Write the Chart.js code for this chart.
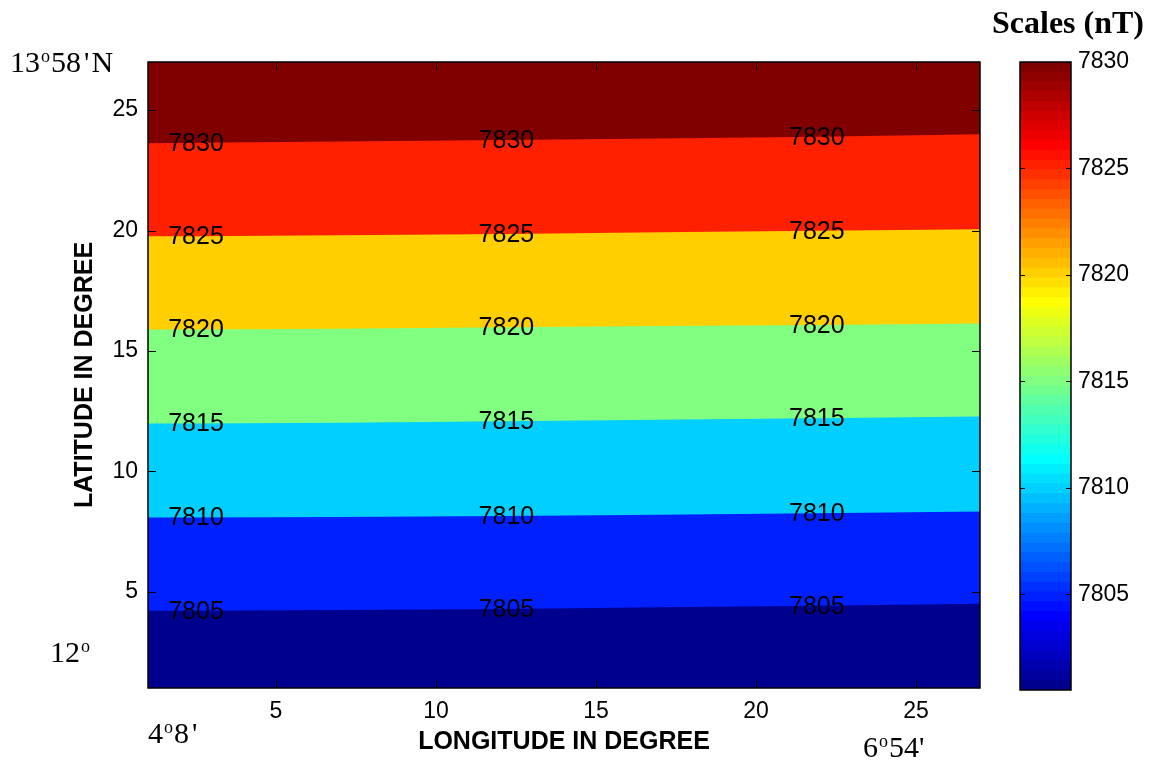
<!DOCTYPE html>
<html>
<head>
<meta charset="utf-8">
<script src="https://cdn.jsdelivr.net/npm/chart.js@4.4.1/dist/chart.umd.min.js"></script>
<style>
  html, body { margin: 0; padding: 0; background: #fff; }
  #wrap { position: relative; width: 1153px; height: 763px; overflow: hidden; }
  #wrap canvas { position: absolute; left: 0; top: 0; }
  .note { position: absolute; font-family: "Liberation Serif", "Times New Roman", serif; font-size: 30px; line-height: 30px; color: #000; white-space: nowrap; }
  .note .o { font-size: 18px; position: relative; top: -10px; margin: 0 1px; }
  .note .p { margin: 0 2px 0 3px; }
  .note.bold { font-weight: bold; font-size: 32px; line-height: 32px; }
</style>
</head>
<body>
<div id="wrap">
  <canvas id="map" width="1153" height="763"></canvas>
  <canvas id="scale" width="1153" height="763"></canvas>
  <div class="note" style="left:10px; top:47px">13<span class="o">o</span>58<span class="p">'</span>N</div>
  <div class="note" style="left:50px; top:637px">12<span class="o">o</span></div>
  <div class="note" style="left:148px; top:718px">4<span class="o">o</span>8<span class="p">'</span></div>
  <div class="note" style="left:863px; top:732px">6<span class="o">o</span>54'</div>
  <div class="note bold" style="left:992px; top:6px">Scales (nT)</div>
</div>
<script>
/* ===== Data ===== */

// x positions (degrees) where the contour lines were sampled
const contourX = [1, 2.5, 7, 12.2, 17, 21.9, 27];
const levels = [7805, 7810, 7815, 7820, 7825, 7830];
const line7805 = [4.21, 4.21, 4.24, 4.28, 4.35, 4.42, 4.50];
const line7810 = [8.08, 8.08, 8.10, 8.14, 8.20, 8.26, 8.33];
const line7815 = [11.99, 11.99, 12.02, 12.08, 12.14, 12.20, 12.28];
const line7820 = [15.89, 15.89, 15.92, 15.98, 16.03, 16.08, 16.14];
const line7825 = [19.76, 19.76, 19.80, 19.86, 19.93, 19.99, 20.05];
const line7830 = [23.63, 23.65, 23.70, 23.76, 23.82, 23.90, 24.00];
// which samples carry a clabel
const labelIdx = [1, 3, 5];

const xTicks = [5, 10, 15, 20, 25];
const yTicks = [5, 10, 15, 20, 25];
const axisMin = 1, axisMax = 27;

const cbTicks = [7805, 7810, 7815, 7820, 7825, 7830];
const cbMin = 7800.5, cbMax = 7830;

// band colours, bottom to top (jet at each level)
const bandColors = ['#00008f', '#0020ff', '#00cfff', '#80ff80', '#ffcf00', '#ff2000', '#800000'];

const FONT = '"Liberation Sans", Arial, Helvetica, sans-serif';
Chart.defaults.font.family = FONT;
Chart.defaults.color = '#000';

// MATLAB jet(64), row = 1..64
function jet64(row) {
  const u = k => k <= 16 ? k / 16 : (k <= 31 ? 1 : (48 - k) / 16);
  const pick = k => (k >= 1 && k <= 47) ? u(k) : 0;
  const c = v => Math.round(v * 255);
  return `rgb(${c(pick(row - 24))},${c(pick(row - 8))},${c(pick(row + 8))})`;
}

// inward tick marks + box, like a MATLAB axes
function boxTicks(len, xt, yt) {
  return {
    id: 'boxTicks',
    afterDraw(chart) {
      const { ctx, chartArea: a, scales } = chart;
      ctx.save();
      ctx.strokeStyle = '#000';
      ctx.lineWidth = 1;
      ctx.beginPath();
      if (xt) {
        xt.forEach(v => {
          const px = Math.round(scales.x.getPixelForValue(v)) + 0.5;
          ctx.moveTo(px, a.bottom); ctx.lineTo(px, a.bottom - len);
          ctx.moveTo(px, a.top); ctx.lineTo(px, a.top + len);
        });
      }
      yt.forEach(v => {
        const py = Math.round(scales.y.getPixelForValue(v)) + 0.5;
        ctx.moveTo(a.left, py); ctx.lineTo(a.left + len, py);
        ctx.moveTo(a.right, py); ctx.lineTo(a.right - len, py);
      });
      ctx.stroke();
      ctx.lineWidth = 1.5;
      ctx.strokeRect(a.left, a.top, a.right - a.left, a.bottom - a.top);
      ctx.restore();
    }
  };
}

// contour labels sitting on the lines
const contourLabels = {
  id: 'contourLabels',
  afterDatasetsDraw(chart) {
    const { ctx, scales } = chart;
    const lines = [line7805, line7810, line7815, line7820, line7825, line7830];
    ctx.save();
    ctx.font = `25px ${FONT}`;
    ctx.fillStyle = '#000';
    ctx.textAlign = 'center';
    ctx.textBaseline = 'middle';
    lines.forEach((ys, li) => {
      labelIdx.forEach(i => {
        ctx.fillText(String(levels[li]), scales.x.getPixelForValue(contourX[i]), scales.y.getPixelForValue(ys[i]) + 1);
      });
    });
    ctx.restore();
  }
};

/* ===== Filled contour map ===== */
const pts = ys => contourX.map((x, i) => ({ x, y: ys[i] }));
const bandLines = [line7805, line7810, line7815, line7820, line7825, line7830];
// filler paints from the last dataset to the first, so lowest line goes first
const datasets = bandLines.map((ys, i) => ({
  data: pts(ys),
  fill: 'start',
  backgroundColor: bandColors[i],
  borderColor: 'rgba(0,0,0,0)',
  borderWidth: 1,
  pointRadius: 0,
  tension: 0
}));
datasets.push({
  data: contourX.map(x => ({ x, y: axisMax })),
  fill: 'start',
  backgroundColor: bandColors[6],
  borderColor: 'rgba(0,0,0,0)',
  borderWidth: 1,
  pointRadius: 0
});

new Chart(document.getElementById('map'), {
  type: 'line',
  data: { datasets },
  options: {
    responsive: false,
    animation: false,
    events: [],
    layout: { padding: { left: 0, top: 62, right: 173, bottom: 0 } },
    plugins: { legend: { display: false }, tooltip: { enabled: false } },
    scales: {
      x: {
        type: 'linear', min: axisMin, max: axisMax,
        afterBuildTicks: s => { s.ticks = xTicks.map(v => ({ value: v })); },
        afterFit: s => { s.height = 75; },
        grid: { display: false, drawTicks: false },
        border: { display: false },
        ticks: { font: { size: 23 }, color: '#000', padding: 10, maxRotation: 0 },
        title: { display: true, text: 'LONGITUDE IN DEGREE', color: '#000',
                 font: { size: 25, weight: 'bold' }, padding: { top: 0, bottom: 6 } }
      },
      y: {
        type: 'linear', min: axisMin, max: axisMax,
        afterBuildTicks: s => { s.ticks = yTicks.map(v => ({ value: v })); },
        afterFit: s => { s.width = 148; },
        grid: { display: false, drawTicks: false },
        border: { display: false },
        ticks: { font: { size: 23 }, color: '#000', padding: 10 },
        title: { display: true, text: 'LATITUDE IN DEGREE', color: '#000',
                 font: { size: 25, weight: 'bold' }, padding: { top: 70, bottom: 0 } }
      }
    }
  },
  plugins: [contourLabels, boxTicks(8, xTicks, yTicks)]
});

/* ===== Colour bar ===== */
const cbSteps = 64;
const cbSets = [];
for (let i = 0; i < cbSteps; i++) {
  const hi = cbMin + (i + 1) * (cbMax - cbMin) / cbSteps;
  // every strip starts at the bottom; dataset 0 is painted last, so lower strips sit on top (no seams)
  cbSets.push({ data: [[cbMin, hi]], backgroundColor: jet64(i + 1), borderWidth: 0,
                barPercentage: 1, categoryPercentage: 1 });
}

new Chart(document.getElementById('scale'), {
  type: 'bar',
  data: { labels: [''], datasets: cbSets },
  options: {
    responsive: false,
    animation: false,
    events: [],
    layout: { padding: { left: 1020, top: 62, right: 0, bottom: 73 } },
    plugins: { legend: { display: false }, tooltip: { enabled: false } },
    scales: {
      x: { display: false, stacked: true },
      y: {
        position: 'right', min: cbMin, max: cbMax,
        afterBuildTicks: s => { s.ticks = cbTicks.map(v => ({ value: v })); },
        afterFit: s => { s.width = 82; },
        grid: { display: false, drawTicks: false },
        border: { display: false },
        ticks: { font: { size: 23 }, color: '#000', padding: 7, callback: v => String(v) }
      }
    }
  },
  plugins: [boxTicks(5, null, cbTicks)]
});
</script>
</body>
</html>
